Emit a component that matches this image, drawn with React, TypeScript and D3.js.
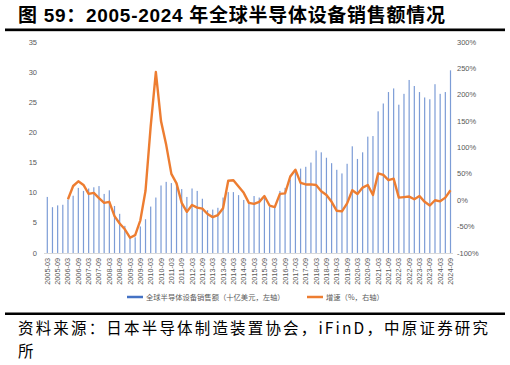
import * as d3 from 'd3';
import React, { useRef, useEffect } from 'react';

// quarterly sales, billion USD (left axis)
const sales = [
  9.3, 7.6, 7.9, 8.0,
  8.9, 9.5, 10.8, 10.3,
  10.7, 10.9, 11.1, 9.8,
  10.4, 7.8, 6.5, 4.5,
  2.7, 2.6, 4.4, 5.6,
  7.7, 9.2, 11.2, 11.8,
  11.6, 11.7, 10.6, 9.3,
  10.7, 10.3, 9.0, 7.1,
  7.2, 7.5, 9.2, 10.1,
  10.1, 9.6, 8.8, 8.3,
  9.45, 9.2, 9.3, 7.7,
  7.8, 10.3, 10.8, 12.2,
  13.6, 14.0, 14.3, 15.0,
  17.0, 16.7, 15.8, 14.9,
  13.8, 13.2, 14.8, 17.7,
  15.6, 16.7, 19.3, 19.4,
  23.5, 24.8, 26.7, 27.3,
  24.6, 26.4, 28.7, 27.7,
  26.7, 25.8, 25.5, 28.0,
  26.4, 26.7, 30.3
];

// YoY growth, % (right axis) - starts at 2006-03
const growth = [
  2, 27, 36, 29,
  12, 14, 4, -5,
  -3, -30, -44, -55,
  -71, -66, -38, 18,
  140, 243, 150, 105,
  50, 32, -5, -22,
  -9, -14, -16, -26,
  -32, -28, -15, 37,
  38, 26, 14, -5,
  -7, -3, 8, -10,
  -13, 12, 13, 45,
  58, 33, 30, 30,
  29, 17, 10, -3,
  -20, -21, -6, 19,
  12, 24, 29, 10,
  51, 48, 38, 41,
  5, 6, 7, 2,
  8, -3, -10, 0,
  -2, 5, 19
];

const months = ['03', '06', '09', '12'];
const quarters = sales.map((_, i) => `${2005 + Math.floor(i / 4)}-${months[i % 4]}`);
const leftTicks = [0, 5, 10, 15, 20, 25, 30, 35];
const rightTicks = [-100, -50, 0, 50, 100, 150, 200, 250, 300];

const title = '图 59：2005-2024 年全球半导体设备销售额情况';
const source1 = '资料来源：日本半导体制造装置协会，iFinD，中原证券研究';
const source2 = '所';
const legendBar = '全球半导体设备销售额（十亿美元，左轴）';
const legendLine = '增速（%，右轴）';

const W = 510, H = 365;
const axisGray = '#595959';
const latin = 'Liberation Sans, Arial, Noto Sans CJK SC, sans-serif';
const cjk = 'Noto Sans CJK SC, sans-serif';

function App() {
  const ref = useRef<SVGSVGElement>(null);

  useEffect(() => {
    const svg = d3.select(ref.current);
    svg.selectAll('*').remove();

    const x = d3.scalePoint<string>().domain(quarters).range([47.3, 450.5]);
    const yL = d3.scaleLinear().domain([0, 35]).range([253, 42]);
    const yR = d3.scaleLinear().domain([-100, 300]).range([253, 42]);

    // title + rules
    svg.append('text')
      .attr('x', 18).attr('y', 22)
      .attr('font-family', latin).attr('font-weight', 'bold')
      .attr('font-size', 19).attr('fill', '#000')
      .attr('textLength', 427).attr('lengthAdjust', 'spacing')
      .text(title);
    svg.append('rect').attr('x', 5).attr('y', 28.5).attr('width', 500).attr('height', 2.5).attr('fill', '#000');
    svg.append('line').attr('x1', 5).attr('x2', 505).attr('y1', 31.5).attr('y2', 31.5)
      .attr('stroke', '#d0d0d0').attr('stroke-width', 1);

    // bars
    svg.append('g').selectAll('rect').data(sales).join('rect')
      .attr('x', (_, i) => (x(quarters[i]) as number) - 0.6)
      .attr('width', 1.2)
      .attr('y', d => yL(d))
      .attr('height', d => yL(0) - yL(d))
      .attr('fill', '#4472c4')
      .attr('opacity', 0.7);

    // baseline
    svg.append('line').attr('x1', 44).attr('x2', 453).attr('y1', 253.5).attr('y2', 253.5)
      .attr('stroke', '#d9d9d9');

    // growth line
    const line = d3.line<number>()
      .x((_, i) => x(quarters[i + 4]) as number)
      .y(d => yR(d));
    svg.append('path').datum(growth)
      .attr('d', line)
      .attr('fill', 'none')
      .attr('stroke', '#ed7d31')
      .attr('stroke-width', 2.4)
      .attr('stroke-linejoin', 'round');

    // left axis
    svg.append('g').selectAll('text').data(leftTicks).join('text')
      .attr('x', 37).attr('y', d => yL(d) + 2.5)
      .attr('text-anchor', 'end')
      .attr('font-family', latin).attr('font-size', 7.5).attr('fill', axisGray)
      .text(d => d);

    // right axis
    svg.append('g').selectAll('text').data(rightTicks).join('text')
      .attr('x', 457).attr('y', d => yR(d) + 2.5)
      .attr('font-family', latin).attr('font-size', 7.5).attr('fill', axisGray)
      .text(d => `${d}%`);

    // x labels every half year
    const xl = quarters.filter((_, i) => i % 2 === 0);
    svg.append('g').selectAll('text').data(xl).join('text')
      .attr('transform', d => `translate(${(x(d) as number) + 2.5},258) rotate(-90)`)
      .attr('text-anchor', 'end')
      .attr('font-family', latin).attr('font-size', 7.3).attr('fill', axisGray)
      .text(d => d);

    // legend
    const lg = svg.append('g');
    lg.append('line').attr('x1', 127).attr('x2', 143).attr('y1', 297).attr('y2', 297)
      .attr('stroke', '#4472c4').attr('stroke-width', 2.5);
    lg.append('text').attr('x', 146).attr('y', 299.5)
      .attr('font-family', cjk).attr('font-size', 7.3).attr('fill', axisGray)
      .text(legendBar);
    lg.append('line').attr('x1', 307).attr('x2', 323).attr('y1', 297).attr('y2', 297)
      .attr('stroke', '#ed7d31').attr('stroke-width', 2.5);
    lg.append('text').attr('x', 326).attr('y', 299.5)
      .attr('font-family', cjk).attr('font-size', 7.3).attr('fill', axisGray)
      .text(legendLine);

    // bottom rule + source
    svg.append('rect').attr('x', 5).attr('y', 312.5).attr('width', 500).attr('height', 2.5).attr('fill', '#000');
    svg.append('text').attr('x', 18).attr('y', 334)
      .attr('font-family', cjk).attr('font-size', 15.5).attr('fill', '#000')
      .attr('textLength', 470).attr('lengthAdjust', 'spacing')
      .text(source1);
    svg.append('text').attr('x', 18).attr('y', 357)
      .attr('font-family', cjk).attr('font-size', 15.5).attr('fill', '#000')
      .text(source2);
  });

  return (
    <svg ref={ref} width={W} height={H}
      style={{ position: 'absolute', left: 0, top: 0, background: '#fff' }} />
  );
}

export default App;
